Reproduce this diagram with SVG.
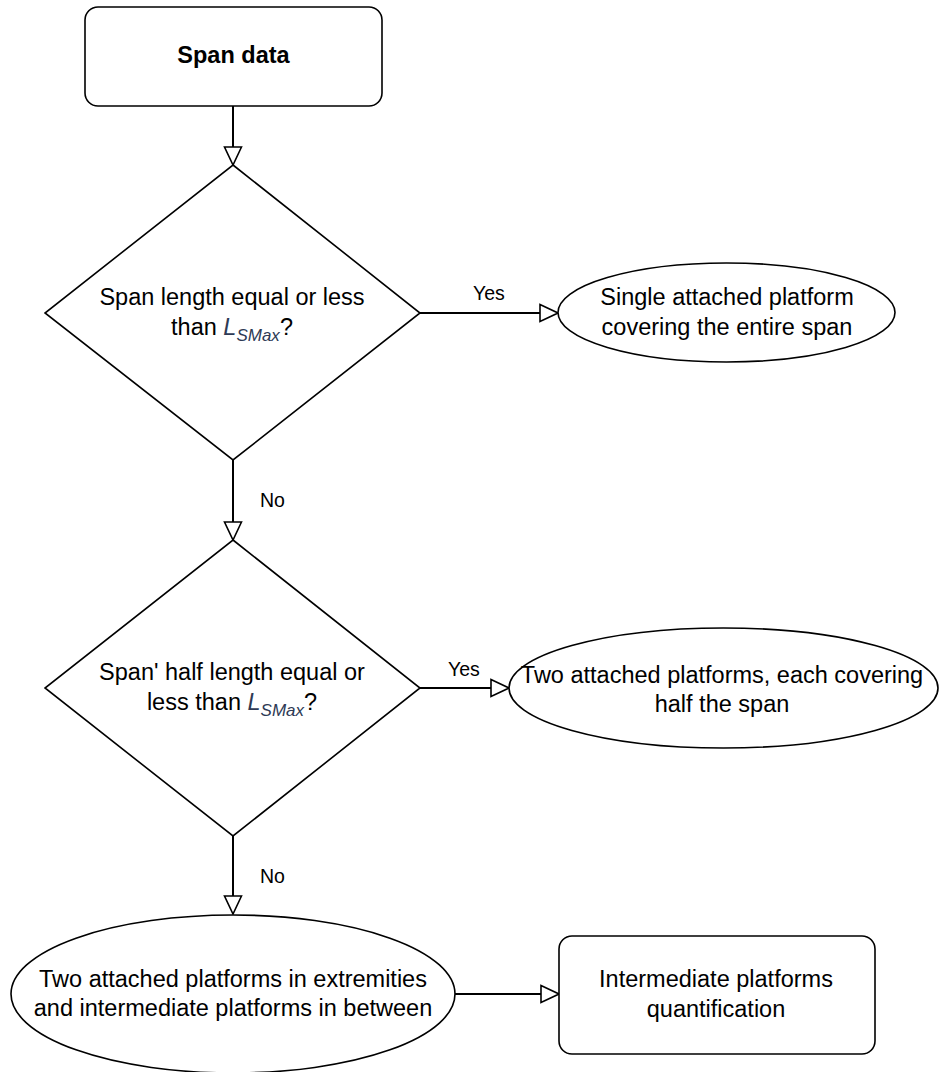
<svg xmlns="http://www.w3.org/2000/svg" width="939" height="1072" viewBox="0 0 939 1072">
  <style>
    .shape { fill: #ffffff; stroke: #000000; stroke-width: 1.6; }
    .edge { fill: none; stroke: #000000; stroke-width: 2; }
    .t { font-family: "Liberation Sans", Arial, sans-serif; font-size: 23.5px; fill: #000000; text-anchor: middle; }
    .b { font-weight: bold; }
    .lbl { font-family: "Liberation Sans", Arial, sans-serif; font-size: 19.5px; fill: #000000; text-anchor: start; }
    .var { font-style: italic; fill: #2e3a55; }
    .sub { font-style: italic; fill: #2e3a55; font-size: 17px; }
  </style>
  <defs>
    <marker id="open-arrow" viewBox="0 0 20 20" refX="19" refY="10" markerWidth="20" markerHeight="20" markerUnits="userSpaceOnUse" orient="auto">
      <path d="M1,1.5 L19,10 L1,18.5 Z" fill="#ffffff" stroke="#000000" stroke-width="1.6"/>
    </marker>
  </defs>

  <rect width="939" height="1072" fill="#ffffff"/>

  <g id="connectors">
    <line class="edge" x1="233" y1="106" x2="233" y2="165" marker-end="url(#open-arrow)"/>
    <line class="edge" x1="420" y1="313" x2="558" y2="313" marker-end="url(#open-arrow)"/>
    <text class="lbl" x="473" y="300">Yes</text>
    <line class="edge" x1="233" y1="460" x2="233" y2="540" marker-end="url(#open-arrow)"/>
    <text class="lbl" x="260" y="507">No</text>
    <line class="edge" x1="420" y1="688" x2="509" y2="688" marker-end="url(#open-arrow)"/>
    <text class="lbl" x="448" y="676">Yes</text>
    <line class="edge" x1="233" y1="836" x2="233" y2="914" marker-end="url(#open-arrow)"/>
    <text class="lbl" x="260" y="883">No</text>
    <line class="edge" x1="455" y1="994" x2="559" y2="994" marker-end="url(#open-arrow)"/>
  </g>

  <g id="span-data">
    <rect class="shape" x="85" y="7" width="297" height="99" rx="13" ry="13"/>
    <text class="t b" x="233.5" y="63">Span data</text>
  </g>

  <g id="check-full-span">
    <polygon class="shape" points="233,165 420,313 233,460 45,313"/>
    <text class="t" x="232" y="305">Span length equal or less</text>
    <text class="t" x="232" y="335">than <tspan class="var">L</tspan><tspan class="sub" dy="6">SMax</tspan><tspan dy="-6">?</tspan></text>
  </g>

  <g id="single-platform">
    <ellipse class="shape" cx="726.5" cy="312.5" rx="168.5" ry="49.5"/>
    <text class="t" x="727" y="305">Single attached platform</text>
    <text class="t" x="727" y="335">covering the entire span</text>
  </g>

  <g id="check-half-span">
    <polygon class="shape" points="233,540 420,688 233,836 45,688"/>
    <text class="t" x="232" y="680">Span' half length equal or</text>
    <text class="t" x="232" y="710">less than <tspan class="var">L</tspan><tspan class="sub" dy="6">SMax</tspan><tspan dy="-6">?</tspan></text>
  </g>

  <g id="two-platforms">
    <ellipse class="shape" cx="723.5" cy="688" rx="214.5" ry="60"/>
    <text class="t" x="722" y="683">Two attached platforms, each covering</text>
    <text class="t" x="722" y="712">half the span</text>
  </g>

  <g id="extremity-platforms">
    <ellipse class="shape" cx="233" cy="994" rx="222" ry="79"/>
    <text class="t" x="233" y="987">Two attached platforms in extremities</text>
    <text class="t" x="233" y="1016">and intermediate platforms in between</text>
  </g>

  <g id="intermediate-quantification">
    <rect class="shape" x="559" y="936" width="316" height="118" rx="13" ry="13"/>
    <text class="t" x="716" y="987">Intermediate platforms</text>
    <text class="t" x="716" y="1017">quantification</text>
  </g>
</svg>
